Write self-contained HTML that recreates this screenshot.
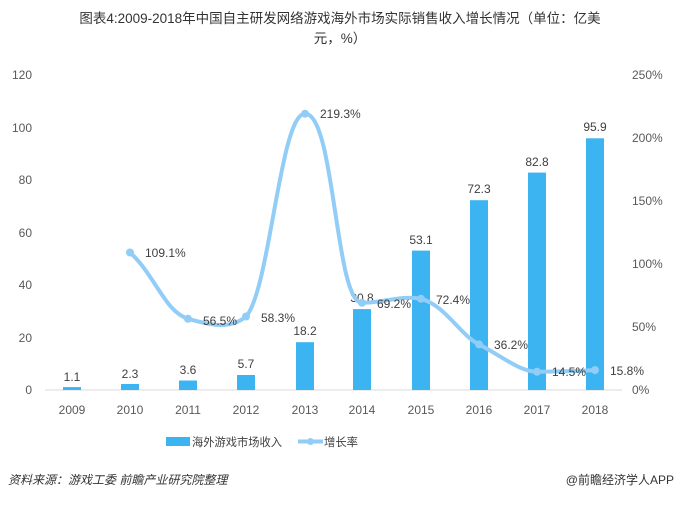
<!DOCTYPE html>
<html><head><meta charset="utf-8"><style>
body{margin:0;background:#fff;}
svg text{font-family:"Liberation Sans","Noto Sans CJK SC",sans-serif;}
</style></head><body>
<svg width="680" height="502" viewBox="0 0 680 502" xmlns="http://www.w3.org/2000/svg">
<rect width="680" height="502" fill="#fff"/>
<text x="340" y="23" font-size="13.5" fill="#333" text-anchor="middle">图表4:2009-2018年中国自主研发网络游戏海外市场实际销售收入增长情况（单位：亿美</text>
<text x="340" y="43" font-size="13.5" fill="#333" text-anchor="middle">元，%）</text>
<g font-size="12" fill="#595959">
<text x="32" y="79" text-anchor="end">120</text>
<text x="32" y="132" text-anchor="end">100</text>
<text x="32" y="184" text-anchor="end">80</text>
<text x="32" y="237" text-anchor="end">60</text>
<text x="32" y="289" text-anchor="end">40</text>
<text x="32" y="342" text-anchor="end">20</text>
<text x="32" y="394" text-anchor="end">0</text>
<text x="632" y="79">250%</text>
<text x="632" y="142">200%</text>
<text x="632" y="205">150%</text>
<text x="632" y="268">100%</text>
<text x="632" y="331">50%</text>
<text x="632" y="394">0%</text>
</g>
<line x1="45" y1="390" x2="622" y2="390" stroke="#d9d9d9"/>
<g fill="#3db4f2">
<rect x="63" y="387.1" width="18" height="2.9"/>
<rect x="121" y="384" width="18" height="6"/>
<rect x="179" y="380.5" width="18" height="9.5"/>
<rect x="237" y="375" width="18" height="15"/>
<rect x="296" y="342.2" width="18" height="47.8"/>
<rect x="353" y="309.1" width="18" height="80.9"/>
<rect x="412" y="250.6" width="18" height="139.4"/>
<rect x="470" y="200.2" width="18" height="189.8"/>
<rect x="528" y="172.6" width="18" height="217.4"/>
<rect x="586" y="138.3" width="18" height="251.7"/>
</g>
<g font-size="12" fill="#404040" text-anchor="middle">
<text x="72" y="381">1.1</text>
<text x="130" y="378">2.3</text>
<text x="188" y="374">3.6</text>
<text x="246" y="368">5.7</text>
<text x="305" y="335">18.2</text>
<text x="362" y="302">30.8</text>
<text x="421" y="244">53.1</text>
<text x="479" y="193">72.3</text>
<text x="537" y="166">82.8</text>
<text x="595" y="131">95.9</text>
</g>
<path d="M130,252.5 C155,275 165,312 188,318.8 C210,325 230,330 246,316.5 C270,290 280,113.7 305,113.7 C335,113.7 335,302.8 362,302.8 C385,302.8 400,295 421,298.8 C445,305 460,335 479,344.4 C500,355 520,372 537,371.7 C560,371.5 580,371 595,370.1" fill="none" stroke="#91cdf6" stroke-width="4"/>
<g fill="#91cdf6">
<circle cx="130" cy="252.5" r="4"/><circle cx="188" cy="318.8" r="4"/><circle cx="246" cy="316.5" r="4"/><circle cx="305" cy="113.7" r="4"/><circle cx="362" cy="302.8" r="4"/><circle cx="421" cy="298.8" r="4"/><circle cx="479" cy="344.4" r="4"/><circle cx="537" cy="371.7" r="4"/><circle cx="595" cy="370.1" r="4"/>
</g>
<g font-size="12" fill="#404040">
<text x="145" y="257">109.1%</text>
<text x="203" y="325">56.5%</text>
<text x="261" y="322">58.3%</text>
<text x="320" y="118">219.3%</text>
<text x="377" y="308">69.2%</text>
<text x="436" y="304">72.4%</text>
<text x="494" y="349">36.2%</text>
<text x="552" y="376">14.5%</text>
<text x="610" y="375">15.8%</text>
</g>
<g font-size="12" fill="#595959" text-anchor="middle">
<text x="72" y="414">2009</text><text x="130" y="414">2010</text><text x="188" y="414">2011</text><text x="246" y="414">2012</text><text x="305" y="414">2013</text><text x="362" y="414">2014</text><text x="421" y="414">2015</text><text x="479" y="414">2016</text><text x="537" y="414">2017</text><text x="595" y="414">2018</text>
</g>
<rect x="166" y="437" width="24" height="9" fill="#3db4f2"/>
<text x="192" y="446" font-size="11.5" fill="#404040" textLength="90" lengthAdjust="spacingAndGlyphs">海外游戏市场收入</text>
<line x1="298" y1="441.5" x2="323" y2="441.5" stroke="#91cdf6" stroke-width="4"/>
<circle cx="310.5" cy="441.5" r="3.5" fill="#91cdf6"/>
<text x="324" y="446" font-size="11.5" fill="#404040" textLength="34" lengthAdjust="spacingAndGlyphs">增长率</text>
<text x="8" y="484" font-size="12" fill="#333" font-style="italic">资料来源：游戏工委 前瞻产业研究院整理</text>
<text x="674" y="484" font-size="12" fill="#333" text-anchor="end">@前瞻经济学人APP</text>
</svg>
</body></html>
